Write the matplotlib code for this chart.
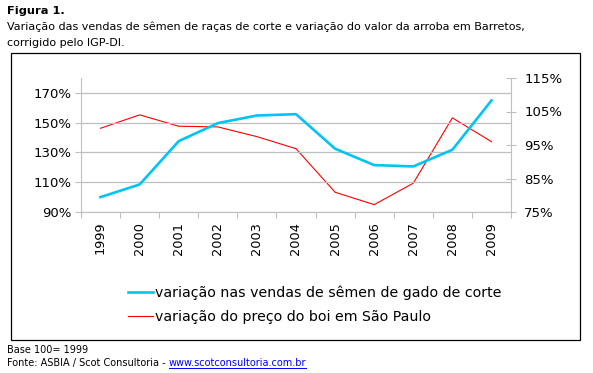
import matplotlib
matplotlib.use("Agg")
import matplotlib.pyplot as plt
from matplotlib.patches import Rectangle
from matplotlib.lines import Line2D

########## Data

years = ["1999", "2000", "2001", "2002", "2003", "2004", "2005", "2006", "2007", "2008", "2009"]
# variação nas vendas de sêmen (left axis, %)
semen = [100, 108.5, 137.6, 149.7, 154.8, 155.7, 132.5, 121.5, 120.6, 131.8, 164.9]
# variação do preço do boi (right axis, %)
boi = [100, 104.0, 100.6, 100.4, 97.5, 93.9, 80.9, 77.2, 83.6, 103.1, 96.0]

left_ticks = [90, 110, 130, 150, 170]
right_ticks = [75, 85, 95, 105, 115]

label_semen = "variação nas vendas de sêmen de gado de corte"
label_boi = "variação do preço do boi em São Paulo"

########## Style

W, H = 593, 373
grey = "#BFBFBF"
cyan = "#00C4F4"
red = "#FF0000"
plt.rcParams["font.family"] = ["DejaVu Sans"]


def fx(px):
    return px / W


def fy(py):
    return 1 - py / H


fig = plt.figure(figsize=(W / 100, H / 100), dpi=100)

## outer frame of the chart
fig.patches.append(Rectangle((fx(11), fy(340)), fx(569), 287 / H, transform=fig.transFigure,
                             fill=False, edgecolor="black", linewidth=0.9))

## axes
ax = fig.add_axes([fx(81), fy(212), fx(430), 134 / H])
ax2 = ax.twinx()

x = list(range(len(years)))
l1, = ax.plot(x, semen, color=cyan, linewidth=1.9, label=label_semen)
l2, = ax2.plot(x, boi, color=red, linewidth=0.8, label=label_boi)

ax.set_zorder(ax2.get_zorder() + 1)
ax.patch.set_visible(False)

ax.set_xlim(-0.5, len(years) - 0.5)
ax.set_ylim(90, 180)
ax2.set_ylim(75, 115)
ax.set_yticks(left_ticks)
ax.set_yticklabels([f"{v}%" for v in left_ticks])
ax2.set_yticks(right_ticks)
ax2.set_yticklabels([f"{v}%" for v in right_ticks])

## category axis: ticks between categories, labels at centres
ax.set_xticks([i - 0.5 for i in range(len(years) + 1)])
ax.set_xticklabels([])
ax.set_xticks(x, minor=True)
ax.set_xticklabels(years, minor=True, rotation=90)
ax.tick_params(axis="x", which="minor", length=0, pad=7, labelsize=9.3)
ax.tick_params(axis="x", which="major", length=4, color=grey, width=0.8)
ax.tick_params(axis="y", length=4, color=grey, width=0.8, labelsize=9.5, pad=3)
ax2.tick_params(axis="y", length=7, direction="inout", color=grey, width=0.8, labelsize=9.5, pad=6)

ax.grid(axis="y", color=grey, linewidth=0.9)
ax.set_axisbelow(True)

for a in (ax, ax2):
    a.spines["top"].set_visible(False)
    for s in ("left", "right", "bottom"):
        a.spines[s].set_color(grey)
        a.spines[s].set_linewidth(0.8)
ax.spines["right"].set_visible(False)
ax2.spines["left"].set_visible(False)
ax2.spines["bottom"].set_visible(False)

## legend
fig.legend(handles=[l1, l2], loc="upper left", bbox_to_anchor=(fx(122), fy(280)),
           frameon=False, fontsize=10.2, handlelength=1.8, handletextpad=0.15,
           labelspacing=0.7, borderaxespad=0)

## title and notes
fig.text(fx(7), fy(14), "Figura 1.", fontsize=8.2, fontweight="bold", va="baseline")
fig.text(fx(7), fy(30), "Variação das vendas de sêmen de raças de corte e variação do valor da arroba em Barretos,",
         fontsize=8.05, va="baseline")
fig.text(fx(7), fy(46), "corrigido pelo IGP-DI.", fontsize=8.05, va="baseline")
fig.text(fx(7), fy(353), "Base 100= 1999", fontsize=7, va="baseline")
t1 = fig.text(fx(7), fy(366), "Fonte: ASBIA / Scot Consultoria - ", fontsize=7, va="baseline")

renderer = fig.canvas.get_renderer()
bb = t1.get_window_extent(renderer)
link = fig.text(bb.x1 / W, fy(366), "www.scotconsultoria.com.br", fontsize=7, va="baseline", color="#0000FF")
fig.lines.append(Line2D([bb.x1 / W, link.get_window_extent(renderer).x1 / W], [fy(368), fy(368)],
                        transform=fig.transFigure, color="#0000FF", linewidth=0.7))

fig.savefig("out.png", dpi=100)
